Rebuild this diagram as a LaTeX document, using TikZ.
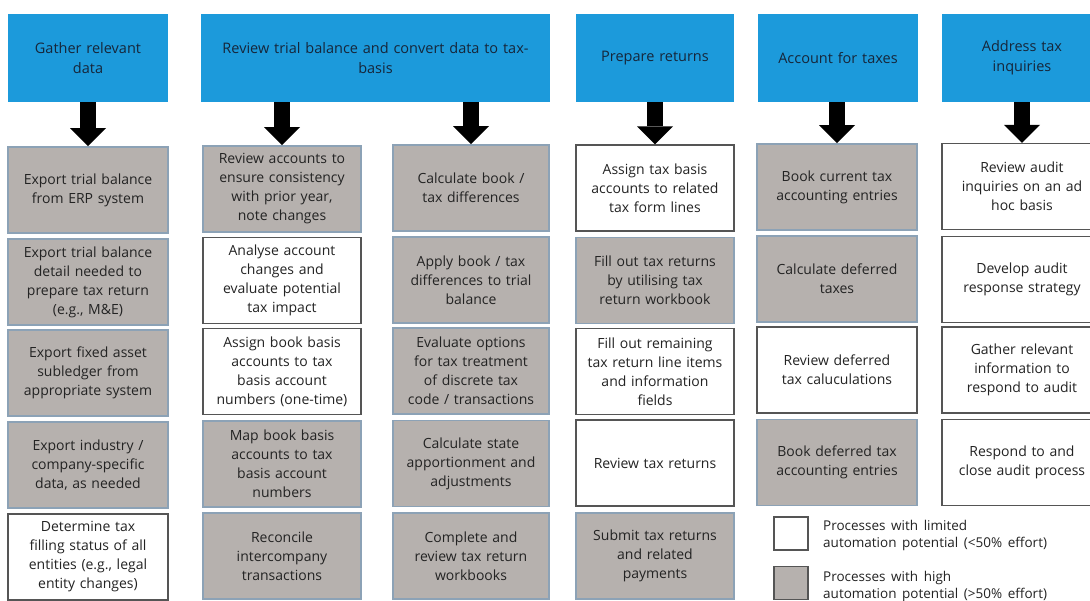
\documentclass[tikz,border=0pt]{standalone}
\usepackage{fontspec}
\setmainfont{Open Sans}[WordSpace=1.6]
\usetikzlibrary{arrows.meta}

\definecolor{hblue}{RGB}{28,154,219}
\definecolor{htext}{RGB}{22,38,58}
\definecolor{boxgray}{RGB}{182,177,174}
\definecolor{gedge}{RGB}{140,162,182}
\definecolor{wedge}{RGB}{85,85,85}
\definecolor{btext}{RGB}{35,35,35}

\tikzset{
  txt/.style={font=\fontsize{14}{19}\selectfont, text=btext, align=center, inner xsep=4pt, inner ysep=2pt},
  hdr/.style={txt, font=\fontsize{14.5}{20}\selectfont, fill=hblue, text=htext, minimum height=88pt},
  gbox/.style={txt, fill=boxgray, draw=gedge, line width=1.6pt, minimum height=86pt},
  wbox/.style={txt, fill=white, draw=wedge, line width=1.1pt, minimum height=86pt},
  cA/.style={text width=152pt},
  cB/.style={text width=150pt},
  cC/.style={text width=148pt},
  cW/.style={text width=341pt},
  flow/.style={draw=black, line width=16pt, -{Triangle[length=18pt 0 0, width=36pt 0 0, line width=0pt 0 0]}},
  legtxt/.style={font=\fontsize{13.5}{17}\selectfont, text=btext, align=left, anchor=west, inner sep=0pt}
}

\begin{document}
\begin{tikzpicture}[x=1pt,y=-1pt]
\useasboundingbox (0,0) rectangle (1090,601);
\fill[white] (0,0) rectangle (1090,601);
\clip (0,0) rectangle (1090,601);

% stage headers
\node[hdr, cA] (h1) at (88,58)    {Gather relevant\\data};
\node[hdr, cW] (h2) at (375.5,58) {Review trial balance and convert data to tax-\\basis};
\node[hdr, cB] (h3) at (655,58)   {Prepare returns};
\node[hdr, cA] (h4) at (838,58)   {Account for taxes};
\node[hdr, cA] (h5) at (1022,58)  {Address tax\\inquiries};

% column 1: gather relevant data
\node[gbox, cA] (b11) at (88,190)   {Export trial balance\\from ERP system};
\node[gbox, cA] (b12) at (88,282)   {Export trial balance\\detail needed to\\prepare tax return\\(e.g., M\&E)};
\node[gbox, cA] (b13) at (88,373)   {Export fixed asset\\subledger from\\appropriate system};
\node[gbox, cA] (b14) at (88,465)   {Export industry /\\company-specific\\data, as needed};
\node[wbox, cA] (b15) at (88,557)   {Determine tax\\filling status of all\\entities (e.g., legal\\entity changes)};

% column 2: review trial balance
\node[gbox, cB] (b21) at (282,189)  {Review accounts to\\ensure consistency\\with prior year,\\note changes};
\node[wbox, cB] (b22) at (282,280.5){Analyse account\\changes and\\evaluate potential\\tax impact};
\node[wbox, cB] (b23) at (282,371.5){Assign book basis\\accounts to tax\\basis account\\numbers (one-time)};
\node[gbox, cB] (b24) at (282,464)  {Map book basis\\accounts to tax\\basis account\\numbers};
\node[gbox, cB] (b25) at (282,556)  {Reconcile\\intercompany\\transactions};

% column 3: convert data to tax basis
\node[gbox, cC] (b31) at (471,188)  {Calculate book /\\tax differences};
\node[gbox, cC] (b32) at (471,280)  {Apply book / tax\\differences to trial\\balance};
\node[gbox, cC] (b33) at (471,371)  {Evaluate options\\for tax treatment\\of discrete tax\\code / transactions};
\node[gbox, cC] (b34) at (471,463.5){Calculate state\\apportionment and\\adjustments};
\node[gbox, cC] (b35) at (471,556)  {Complete and\\review tax return\\workbooks};

% column 4: prepare returns
\node[wbox, cB] (b41) at (655,188)  {Assign tax basis\\accounts to related\\tax form lines};
\node[gbox, cB] (b42) at (655,280.5){Fill out tax returns\\by utilising tax\\return workbook};
\node[wbox, cB] (b43) at (655,371.5){Fill out remaining\\tax return line items\\and information\\fields};
\node[wbox, cB] (b44) at (655,463)  {Review tax returns};
\node[gbox, cB] (b45) at (655,556)  {Submit tax returns\\and related\\payments};

% column 5: account for taxes
\node[gbox, cA] (b51) at (837,187)  {Book current tax\\accounting entries};
\node[gbox, cA] (b52) at (837,279)  {Calculate deferred\\taxes};
\node[wbox, cA] (b53) at (837,370)  {Review deferred\\tax caluculations};
\node[gbox, cA] (b54) at (837,462.5){Book deferred tax\\accounting entries};

% column 6: address tax inquiries
\node[wbox, cA] (b61) at (1022,186.5){Review audit\\inquiries on an ad\\hoc basis};
\node[wbox, cA] (b62) at (1022,279.5){Develop audit\\response strategy};
\node[wbox, cA] (b63) at (1022,370)  {Gather relevant\\information to\\respond to audit};
\node[wbox, cA] (b64) at (1022,462.5){Respond to and\\close audit process};

% flow arrows from headers to first tasks
\draw[flow] (h1.south) -- (b11.north);
\draw[flow] (h2.south -| b21.north) -- (b21.north);
\draw[flow] (h2.south -| b31.north) -- (b31.north);
\draw[flow] (h3.south) -- (b41.north);
\draw[flow] (h4.south -| b51.north) -- (b51.north);
\draw[flow] (h5.south -| b61.north) -- (b61.north);

% legend
\node[draw=wedge, line width=1.1pt, fill=white, minimum width=34pt, minimum height=33pt, inner sep=0pt] (lw) at (791,533.5) {};
\node[draw=wedge, line width=1.1pt, fill=boxgray, minimum width=34pt, minimum height=33pt, inner sep=0pt] (lg) at (791,583) {};
\node[legtxt] (lwt) at (823,535) {Processes with limited\\automation potential (<50\% effort)};
\node[legtxt] (lgt) at (823,586) {Processes with high\\automation potential (>50\% effort)};
\end{tikzpicture}
\end{document}
